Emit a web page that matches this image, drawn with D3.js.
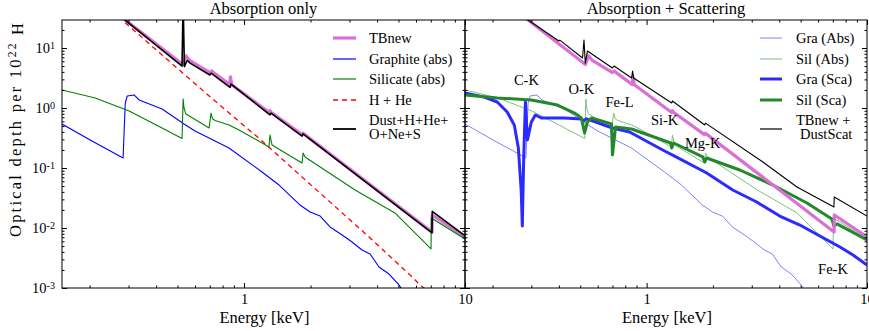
<!DOCTYPE html>
<html><head><meta charset="utf-8">
<script src="https://cdn.jsdelivr.net/npm/d3@7"></script>
<style>
body{margin:0;background:#fff}
svg{display:block}
svg text{font-family:"Liberation Serif","Tinos","Times New Roman","Nimbus Roman","DejaVu Serif","Noto Serif",serif}
</style>
</head><body><svg id="c" width="869" height="331"></svg>
<script>
// ---------- data (energy keV, optical depth per 1e22 H) ----------
const tbnew = [[0.27,35.9],[0.528,5.3],[0.545,7.4],[0.565,6.3],[0.70,3.9],[0.715,4.15],[0.73,3.85],[0.862,2.45],[0.868,3.3],[0.88,2.45],[1.30,0.84],[1.31,0.9],[1.32,0.86],[1.83,0.36],[1.85,0.38],[7.09,0.0086],[7.11,0.0165],[10,0.0071]];
const graphiteAbs = [[0.15,0.541],[0.205,0.282],[0.2835,0.147],[0.29,1.2],[0.296,1.585],[0.318,1.65],[0.335,1.36],[0.4256,0.96],[0.535,0.541],[0.60,0.414],[0.855,0.215],[1.206,0.0858],[1.44,0.052],[1.79,0.0242],[1.99,0.0185],[2.21,0.0158],[2.45,0.0104],[2.78,0.00765],[3.08,0.00585],[3.42,0.0043],[3.72,0.00369],[4.08,0.00224],[4.53,0.00171],[4.98,0.00117],[5.30,0.000858]];
const silicateAbs = [[0.15,2.0],[0.212,1.47],[0.302,0.89],[0.4256,0.464],[0.524,0.31],[0.53,1.41],[0.535,1.0],[0.545,0.8],[0.56,0.75],[0.695,0.464],[0.709,0.825],[0.72,0.66],[0.74,0.62],[0.855,0.521],[0.949,0.43],[1.297,0.224],[1.31,0.355],[1.339,0.242],[1.83,0.121],[1.85,0.178],[1.888,0.153],[3.18,0.043],[4.82,0.0178],[7.02,0.00447],[7.04,0.0147],[10,0.00656]];
const hHe = [[0.27,33.1],[0.4256,7.65],[0.695,1.585],[1.206,0.282],[1.83,0.0708],[3.68,0.00708],[5.76,0.00153],[6.13,0.00121],[7.0,0.0008]];
const dustAll = [[0.27,35.9],[0.524,5.0],[0.530,60],[0.537,4.9],[0.552,6.2],[0.57,5.6],[0.70,3.55],[0.709,3.8],[0.864,2.2],[0.873,2.5],[1.31,0.77],[1.325,0.82],[1.83,0.34],[1.85,0.37],[7.09,0.0083],[7.11,0.019],[10,0.0074]];
const graSca = [[0.15,1.78],[0.1835,1.52],[0.21,1.26],[0.233,0.858],[0.251,0.521],[0.262,0.215],[0.270,0.0398],[0.273,0.0108],[0.277,0.15],[0.282,1.26],[0.288,0.293],[0.300,0.585],[0.313,0.765],[0.333,0.681],[0.424,0.681],[0.506,0.656],[0.52,0.62],[0.535,0.66],[0.70,0.464],[0.837,0.398],[1.207,0.192],[1.34,0.158],[1.874,0.0825],[2.46,0.043],[3.16,0.0271],[4.02,0.0158],[4.96,0.0112],[6.11,0.00736],[7.54,0.00483],[8.64,0.00355],[10,0.00242]];
const silSca = [[0.15,1.65],[0.21,1.47],[0.30,1.36],[0.394,1.12],[0.471,0.825],[0.506,0.681],[0.523,0.383],[0.539,0.585],[0.562,0.681],[0.693,0.541],[0.70,0.165],[0.723,0.482],[0.855,0.447],[1.18,0.293],[1.286,0.261],[1.30,0.215],[1.327,0.261],[1.797,0.153],[1.835,0.126],[1.874,0.147],[2.65,0.0926],[3.74,0.052],[5.34,0.0261],[6.93,0.0141],[7.08,0.0108],[7.31,0.0117],[10,0.0063]];
const tbDustScat = [[0.27,34.9],[0.40,13.1],[0.404,13.5],[0.512,6.81],[0.52,13.6],[0.527,5.6],[0.539,8.9],[0.70,4.64],[0.712,5.0],[0.855,3.16],[0.864,4.14],[0.873,3.16],[1.30,1.21],[1.31,1.31],[1.835,0.521],[1.85,0.56],[3.37,0.126],[4.81,0.0482],[7.08,0.0224],[7.10,0.0329],[10,0.0158]];

const edgeLabels = ["C-K","O-K","Fe-L","Si-K","Mg-K","Fe-K"];
const edgeE = [0.285,0.506,0.754,1.207,1.797,7.01];
const edgeTau = [2.93,2.07,1.26,0.631,0.261,0.00207];

const titles = ["Absorption only","Absorption + Scattering"];
const xTickVals = [1,10];
const yTickVals = [1e-3,1e-2,1e-1,1,10];
const legendLeft = [["TBnew"],["Graphite (abs)"],["Silicate (abs)"],["H + He"],["Dust+H+He+","O+Ne+S"]];
const legendRight = [["Gra (Abs)"],["Sil (Abs)"],["Gra (Sca)"],["Sil (Sca)"],["TBnew +","DustScat"]];

// ---------- layout ----------
const FONT = '"Liberation Serif","Tinos","Times New Roman","Nimbus Roman","DejaVu Serif","Noto Serif",serif';
const svg = d3.select("#c").attr("font-family",FONT);
svg.append("rect").attr("width",869).attr("height",331).attr("fill","#fff");
const yTop = 20, yBot = 288;
const y = d3.scaleLog().domain([1e-3,29.3]).range([yBot,yTop]);
const panels = [
  {x0:62,x1:465},
  {x0:465,x1:867}
];
const xMinor = [0.2,0.3,0.4,0.5,0.6,0.7,0.8,0.9,2,3,4,5,6,7,8,9];
const yMinor = [];
for (let e=-3;e<=1;e++) for (let m=2;m<=9;m++){const v=m*Math.pow(10,e); if(v<=29.3) yMinor.push(v);}

function styleAxis(g){
  g.attr("font-family",FONT).attr("font-size",14.5);
  g.select(".domain").remove();
  g.selectAll(".tick line").attr("stroke","#000").attr("stroke-width",1);
}
function sup(g){
  g.selectAll(".tick text").each(function(d){
    const e = Math.round(Math.log10(d));
    const t = d3.select(this); t.text("").attr("fill","#000");
    t.append("tspan").text("10");
    t.append("tspan").attr("dy","-0.45em").attr("font-size","0.7em").text(e<0?"-"+Math.abs(e):String(e));
  });
}

panels.forEach((p,i)=>{
  const x = d3.scaleLog().domain([0.15,10]).range([p.x0,p.x1]);
  p.x = x;
  const id = "clip"+i;
  svg.append("clipPath").attr("id",id).append("rect")
     .attr("x",p.x0).attr("y",yTop).attr("width",p.x1-p.x0).attr("height",yBot-yTop);
  p.g = svg.append("g").attr("clip-path",`url(#${id})`);

  const gb = svg.append("g").attr("transform",`translate(0,${yBot})`)
    .call(d3.axisBottom(x).tickValues(xTickVals).tickSize(-5).tickSizeOuter(0).tickPadding(6).tickFormat(d3.format("d")));
  styleAxis(gb); gb.selectAll(".tick text").attr("fill","#000");
  const gbm = svg.append("g").attr("transform",`translate(0,${yBot})`)
    .call(d3.axisBottom(x).tickValues(xMinor).tickSize(-2.5).tickSizeOuter(0).tickFormat(""));
  styleAxis(gbm);
  const gt = svg.append("g").attr("transform",`translate(0,${yTop})`)
    .call(d3.axisTop(x).tickValues(xTickVals).tickSize(-5).tickSizeOuter(0).tickFormat(""));
  styleAxis(gt);
  const gtm = svg.append("g").attr("transform",`translate(0,${yTop})`)
    .call(d3.axisTop(x).tickValues(xMinor).tickSize(-2.5).tickSizeOuter(0).tickFormat(""));
  styleAxis(gtm);
  const gl = svg.append("g").attr("transform",`translate(${p.x0},0)`)
    .call(d3.axisLeft(y).tickValues(yTickVals).tickSize(-5).tickSizeOuter(0).tickPadding(7).tickFormat(i===0?(d=>d):""));
  styleAxis(gl); if(i===0) sup(gl);
  const glm = svg.append("g").attr("transform",`translate(${p.x0},0)`)
    .call(d3.axisLeft(y).tickValues(yMinor).tickSize(-2.5).tickSizeOuter(0).tickFormat(""));
  styleAxis(glm);
  const gr = svg.append("g").attr("transform",`translate(${p.x1},0)`)
    .call(d3.axisRight(y).tickValues(yTickVals).tickSize(-5).tickSizeOuter(0).tickFormat(""));
  styleAxis(gr);
  const grm = svg.append("g").attr("transform",`translate(${p.x1},0)`)
    .call(d3.axisRight(y).tickValues(yMinor).tickSize(-2.5).tickSizeOuter(0).tickFormat(""));
  styleAxis(grm);

  svg.append("text").attr("x",(p.x0+p.x1)/2).attr("y",14).attr("text-anchor","middle")
     .attr("font-size",16.5).text(titles[i]);
  svg.append("text").attr("x",(p.x0+p.x1)/2+1).attr("y",323).attr("text-anchor","middle")
     .attr("font-size",16.5).text("Energy [keV]");
});

const line = (x)=> d3.line().x(d=>x(d[0])).y(d=>y(d[1]));
function draw(p,data,color,w,dash){
  p.g.append("path").datum(data).attr("d",line(p.x)).attr("fill","none")
    .attr("stroke",color).attr("stroke-width",w).attr("stroke-linejoin","round")
    .attr("stroke-dasharray",dash||null);
}
const VIOLET="#da70d6";
const L = panels[0], R = panels[1];
draw(L,tbnew,VIOLET,3.2);
draw(L,graphiteAbs,"#0000ff",1.1);
draw(L,silicateAbs,"#008000",1.1);
draw(L,hHe,"#ff0000",1.3,"5,4");
draw(L,dustAll,"#000",1.6);
draw(R,graphiteAbs,"#8080ff",1);
draw(R,silicateAbs,"#7fbf7f",1);
draw(R,graSca,"#2b2bff",3);
draw(R,silSca,"#23882a",3);
draw(R,tbnew,VIOLET,3.2);
draw(R,tbDustScat,"#000",1.1);

panels.forEach(p=>{
  svg.append("rect").attr("x",p.x0).attr("y",yTop).attr("width",p.x1-p.x0).attr("height",yBot-yTop)
    .attr("fill","none").attr("stroke","#000").attr("stroke-width",1);
});

edgeLabels.forEach((t,k)=>{
  svg.append("text").attr("x",R.x(edgeE[k])).attr("y",y(edgeTau[k])).attr("dy","0.35em")
    .attr("text-anchor","middle").attr("font-size",14.5).text(t);
});

function legend(entries, styles, lx0, lx1, tx, ys){
  entries.forEach((lab,k)=>{
    const s = styles[k];
    const ly = lab.length>1 ? ys[k]+2 : ys[k];
    svg.append("line").attr("x1",lx0).attr("x2",lx1).attr("y1",ly).attr("y2",ly)
      .attr("stroke",s[0]).attr("stroke-width",s[1]).attr("stroke-dasharray",s[2]||null);
    lab.forEach((t,j)=>{
      svg.append("text").attr("x",tx + (s[3]&&j===1?s[3]:0)).attr("y",ys[k] + (lab.length>1?(j-0.5)*14.5:0)).attr("dy","0.35em")
        .attr("font-size",14.5).text(t);
    });
  });
}
legend(legendLeft,[[VIOLET,3.2],["#0000ff",1.2],["#008000",1.2],["#ff0000",1.3,"5,4"],["#000",1.8]],333,356,369,[38,59,79,100,127]);
legend(legendRight,[["#8080ff",1],["#7fbf7f",1],["#2b2bff",3],["#23882a",3],["#000",1.2,null,4]],760,782,796,[38,59,79,100,127]);

const yl = svg.append("text").attr("transform","translate(21,130) rotate(-90)").attr("text-anchor","middle")
  .attr("font-size",16.5).attr("textLength",214).attr("lengthAdjust","spacing");
yl.append("tspan").text("Optical depth per 10");
yl.append("tspan").attr("dy","-0.45em").attr("font-size","0.7em").text("22");
yl.append("tspan").attr("dy","0.45em").text(" H");
</script>
</body></html>
